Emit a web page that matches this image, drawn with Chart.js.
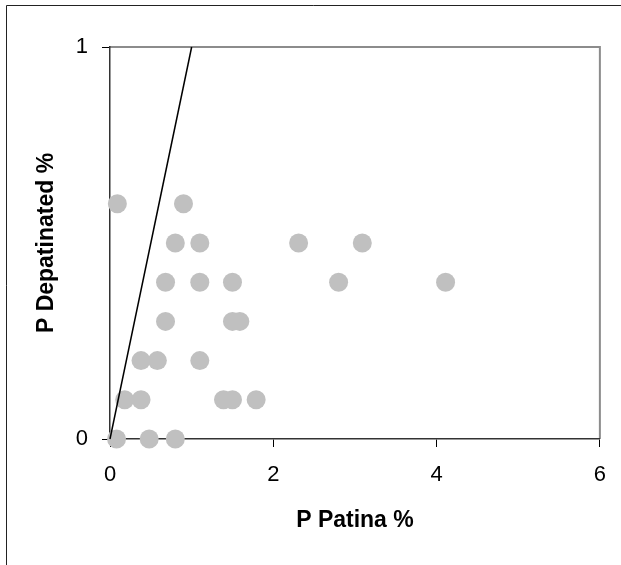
<!DOCTYPE html>
<html>
<head>
<meta charset="utf-8">
<script src="https://cdn.jsdelivr.net/npm/chart.js@4/dist/chart.umd.min.js"></script>
<style>
  body { margin: 0; background: #fff; }
  canvas { display: block; }
</style>
</head>
<body>
<canvas id="c" width="621" height="565"></canvas>
<script>
// P Patina % (x) vs P Depatinated % (y)
const patina = [0.09, 0.9, 0.8, 1.1, 2.31, 3.09, 0.68, 1.1, 1.5, 2.8, 4.11, 0.68, 1.5, 1.59,
                0.38, 0.58, 1.1, 0.18, 0.38, 1.39, 1.5, 1.79, 0.08, 0.48, 0.8];
const depatinated = [0.6, 0.6, 0.5, 0.5, 0.5, 0.5, 0.4, 0.4, 0.4, 0.4, 0.4, 0.3, 0.3, 0.3,
                     0.2, 0.2, 0.2, 0.1, 0.1, 0.1, 0.1, 0.1, 0, 0, 0];
// 1:1 reference line
const lineX = [0, 1];
const lineY = [0, 1];
const xTicks = [0, 2, 4, 6];
const yTicks = [0, 1];

const FONT = "'Liberation Sans', Arial, sans-serif";

// white page, outer frame, gray top/right border of the plot
const frame = {
  id: 'frame',
  beforeDraw(chart) {
    const ctx = chart.ctx;
    const a = chart.chartArea;
    ctx.save();
    ctx.fillStyle = '#fff';
    ctx.fillRect(0, 0, chart.width, chart.height);
    ctx.strokeStyle = '#222';
    ctx.lineWidth = 1;
    ctx.beginPath();
    ctx.moveTo(6.5, chart.height);
    ctx.lineTo(6.5, 5.5);
    ctx.lineTo(chart.width, 5.5);
    ctx.stroke();
    ctx.strokeStyle = '#8c8c8c';
    ctx.lineWidth = 2;
    ctx.beginPath();
    ctx.moveTo(a.left, a.top);
    ctx.lineTo(a.right, a.top);
    ctx.lineTo(a.right, a.bottom);
    ctx.stroke();
    ctx.restore();
  }
};

new Chart(document.getElementById('c'), {
  type: 'scatter',
  data: {
    datasets: [
      {
        type: 'line',
        data: lineX.map((x, i) => ({ x: x, y: lineY[i] })),
        borderColor: '#000',
        borderWidth: 1.5,
        pointRadius: 0,
        fill: false,
        order: 0,
        clip: false
      },
      {
        data: patina.map((x, i) => ({ x: x, y: depatinated[i] })),
        backgroundColor: '#c0c0c0',
        borderWidth: 0,
        pointRadius: 9.5,
        pointHoverRadius: 9.5,
        order: 1,
        clip: false
      }
    ]
  },
  options: {
    responsive: false,
    animation: false,
    layout: { padding: { top: 47, right: 21, left: 0, bottom: 0 } },
    plugins: { legend: { display: false }, tooltip: { enabled: false } },
    scales: {
      x: {
        type: 'linear',
        min: 0, max: 6,
        afterBuildTicks: (s) => { s.ticks = xTicks.map(v => ({ value: v })); },
        afterFit: (s) => { s.height = 126; },
        grid: { drawOnChartArea: false, tickLength: 8, tickColor: '#000', tickWidth: 1 },
        border: { color: '#333', width: 1.5 },
        ticks: { color: '#000', padding: 15, font: { family: FONT, size: 22 } },
        title: {
          display: true, text: 'P Patina %', color: '#000',
          font: { family: FONT, size: 23, weight: 'bold' },
          padding: { top: 0, bottom: 31 }
        }
      },
      y: {
        type: 'linear',
        min: 0, max: 1,
        afterBuildTicks: (s) => { s.ticks = yTicks.map(v => ({ value: v })); },
        afterFit: (s) => { s.width = 110; },
        grid: { drawOnChartArea: false, tickLength: 8, tickColor: '#000', tickWidth: 1 },
        border: { color: '#333', width: 1.5 },
        ticks: { color: '#000', padding: 14, font: { family: FONT, size: 22 } },
        title: {
          display: true, text: 'P Depatinated %', color: '#000',
          font: { family: FONT, size: 23, weight: 'bold' },
          padding: { top: 33, bottom: 0 }
        }
      }
    }
  },
  plugins: [frame]
});
</script>
</body>
</html>
